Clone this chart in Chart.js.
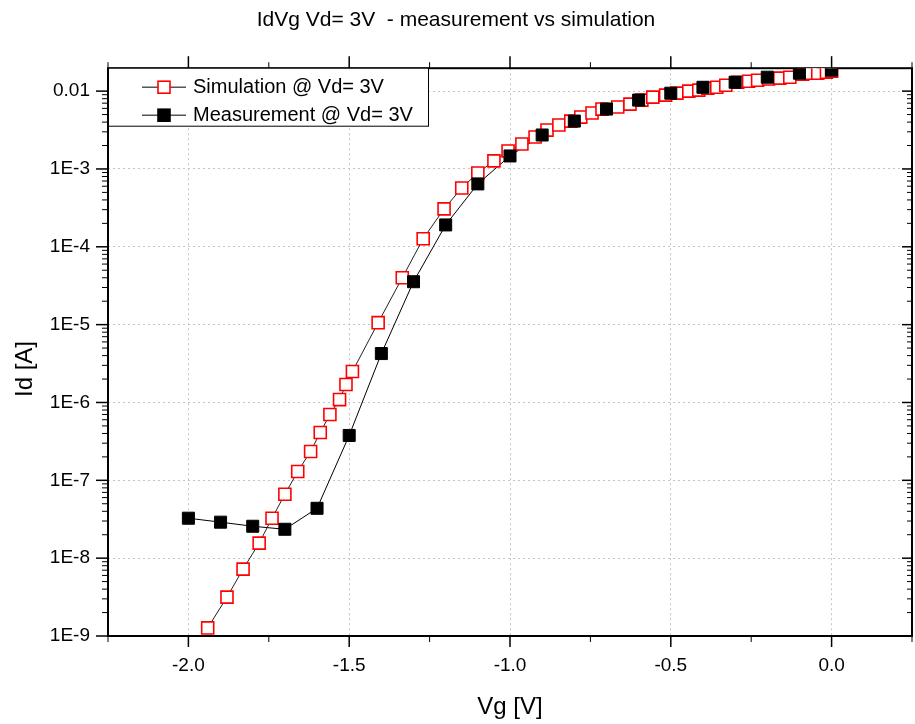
<!DOCTYPE html>
<html>
<head>
<meta charset="utf-8">
<title>IdVg Vd= 3V - measurement vs simulation</title>
<script src="https://cdn.jsdelivr.net/npm/chart.js@4.4.1/dist/chart.umd.min.js"></script>
<style>
  html, body { margin: 0; padding: 0; background: #fff; }
  #chart { display: block; }
</style>
</head>
<body>
<canvas id="chart" width="915" height="724"></canvas>
<script>
const FONT = "'Liberation Sans', Arial, sans-serif";

// measured Id vs Vg, Vd = 3V
const measVg = [-2.0, -1.9, -1.8, -1.7, -1.6, -1.5, -1.4, -1.3, -1.2, -1.1, -1.0,
  -0.9, -0.8, -0.7, -0.6, -0.5, -0.4, -0.3, -0.2, -0.1, 0.0];
const measId = [3.26e-8, 2.9e-8, 2.57e-8, 2.35e-8, 4.37e-8, 3.77e-7, 4.25e-6, 3.56e-5,
  1.91e-4, 6.43e-4, 1.47e-3, 2.73e-3, 4.12e-3, 5.88e-3, 7.67e-3, 9.4e-3, 1.12e-2,
  1.30e-2, 1.51e-2, 1.70e-2, 1.86e-2];

// simulated Id vs Vg, Vd = 3V (non uniform steps)
const simVg = [-1.94, -1.88, -1.83, -1.78, -1.74, -1.70, -1.66, -1.62, -1.59, -1.56,
  -1.53, -1.51, -1.49, -1.41, -1.335, -1.27, -1.205, -1.15, -1.10, -1.05, -1.006,
  -0.963, -0.922, -0.885, -0.848, -0.811, -0.78, -0.745, -0.714, -0.665, -0.627,
  -0.59, -0.556, -0.516, -0.481, -0.444, -0.413, -0.385, -0.357, -0.329, -0.292,
  -0.258, -0.23, -0.196, -0.161, -0.13, -0.09, -0.065, -0.043, -0.016, 0.0];
const simId = [1.27e-9, 3.16e-9, 7.23e-9, 1.56e-8, 3.26e-8, 6.62e-8, 1.30e-7, 2.35e-7,
  4.12e-7, 7.0e-7, 1.09e-6, 1.70e-6, 2.50e-6, 1.06e-5, 4.0e-5, 1.27e-4, 3.07e-4,
  5.70e-4, 8.89e-4, 1.27e-3, 1.70e-3, 2.09e-3, 2.57e-3, 3.16e-3, 3.67e-3, 4.12e-3,
  4.64e-3, 5.23e-3, 5.88e-3, 6.24e-3, 6.81e-3, 7.67e-3, 8.38e-3, 8.89e-3, 9.42e-3,
  1.0e-2, 1.03e-2, 1.09e-2, 1.12e-2, 1.19e-2, 1.30e-2, 1.34e-2, 1.38e-2, 1.43e-2,
  1.47e-2, 1.51e-2, 1.65e-2, 1.70e-2, 1.70e-2, 1.75e-2, 1.80e-2];

const xTicks = [-2.0, -1.5, -1.0, -0.5, 0.0];
const xTickLabels = ['-2.0', '-1.5', '-1.0', '-0.5', '0.0'];
const xMinorTicks = [-2.25, -1.75, -1.25, -0.75, -0.25, 0.25];
const yTicks = [1e-9, 1e-8, 1e-7, 1e-6, 1e-5, 1e-4, 1e-3, 1e-2];
const yTickLabels = ['1E-9', '1E-8', '1E-7', '1E-6', '1E-5', '1E-4', '1E-3', '0.01'];

const meas = measVg.map((v, i) => ({ x: v, y: measId[i] }));
const sim = simVg.map((v, i) => ({ x: v, y: simId[i] }));

// frame + tick marks on all four sides (Origin style)
const framePlugin = {
  id: 'frame',
  beforeDatasetsDraw(chart) {
    const { ctx, chartArea: a, scales: { x, y } } = chart;
    const line = (x1, y1, x2, y2) => {
      ctx.beginPath(); ctx.moveTo(x1, y1); ctx.lineTo(x2, y2); ctx.stroke();
    };
    ctx.save();
    ctx.strokeStyle = '#000';
    ctx.lineWidth = 1.5;
    xTicks.forEach(v => {
      const px = x.getPixelForValue(v);
      line(px, a.bottom, px, a.bottom + 11);
      line(px, a.top, px, a.top - 12);
    });
    yTicks.forEach(v => {
      const py = y.getPixelForValue(v);
      line(a.left, py, a.left - 12, py);
      line(a.right, py, a.right - 10, py);
    });
    ctx.lineWidth = 1;
    xMinorTicks.forEach(v => {
      const px = x.getPixelForValue(v);
      line(px, a.bottom, px, a.bottom + 6);
      line(px, a.top, px, a.top - 6);
    });
    for (let d = -9; d <= -2; d++) {
      for (let k = 2; k <= 9; k++) {
        const v = k * Math.pow(10, d);
        if (v > y.max) continue;
        const py = y.getPixelForValue(v);
        line(a.left, py, a.left - 6, py);
        line(a.right, py, a.right - 5, py);
      }
    }
    ctx.lineWidth = 2;
    ctx.strokeRect(a.left, a.top, a.right - a.left, a.bottom - a.top);
    ctx.restore();
  },
  afterDraw(chart) {
    const { ctx, chartArea: a } = chart;
    ctx.save();
    ctx.fillStyle = '#000';
    ctx.font = '24px ' + FONT;
    ctx.textAlign = 'center';
    ctx.textBaseline = 'alphabetic';
    ctx.fillText('Vg [V]', (a.left + a.right) / 2, 714);
    ctx.translate(32, 369);
    ctx.rotate(-Math.PI / 2);
    ctx.fillText('Id [A]', 0, 0);
    ctx.restore();

    // legend box inside the plot
    const ds = chart.data.datasets;
    const items = [ds[1], ds[2]];
    ctx.save();
    ctx.fillStyle = '#fff';
    ctx.fillRect(a.left, a.top, 320, 58);
    ctx.strokeStyle = '#000';
    ctx.lineWidth = 1;
    ctx.strokeRect(a.left + 0.5, a.top, 320, 58);
    items.forEach((it, i) => {
      const cy = a.top + 19 + i * 28;
      ctx.strokeStyle = '#555';
      ctx.lineWidth = 1.5;
      ctx.beginPath(); ctx.moveTo(142, cy); ctx.lineTo(186, cy); ctx.stroke();
      ctx.fillStyle = it.pointBackgroundColor;
      ctx.fillRect(158, cy - 6, 12, 12);
      ctx.strokeStyle = it.pointBorderColor;
      ctx.lineWidth = 1.6;
      ctx.strokeRect(158, cy - 6, 12, 12);
      ctx.fillStyle = '#000';
      ctx.font = '20px ' + FONT;
      ctx.textAlign = 'left';
      ctx.textBaseline = 'middle';
      ctx.fillText(it.label, 193, cy);
    });
    ctx.restore();
  }
};

const tickFont = { family: FONT, size: 19 };

new Chart(document.getElementById('chart'), {
  type: 'line',
  data: {
    datasets: [
      {
        label: 'Measurement line',
        data: meas,
        borderColor: '#000',
        borderWidth: 1,
        pointRadius: 0,
        order: 3
      },
      {
        label: 'Simulation @ Vd= 3V',
        data: sim,
        borderColor: '#222',
        borderWidth: 1,
        pointStyle: 'rect',
        pointRadius: 8.5,
        pointBorderColor: '#ff0000',
        pointBackgroundColor: '#ffffff',
        pointBorderWidth: 1.6,
        order: 2
      },
      {
        label: 'Measurement @ Vd= 3V',
        data: meas,
        showLine: false,
        pointStyle: 'rect',
        pointRadius: 8.5,
        pointBorderColor: '#000000',
        pointBackgroundColor: '#000000',
        pointBorderWidth: 1,
        order: 1
      }
    ]
  },
  options: {
    responsive: false,
    devicePixelRatio: 1,
    animation: false,
    layout: { autoPadding: false, padding: { right: 3 } },
    plugins: {
      legend: { display: false },
      tooltip: { enabled: false },
      title: {
        display: true,
        text: 'IdVg Vd= 3V  - measurement vs simulation',
        color: '#000',
        font: { family: FONT, size: 21, weight: 'normal' },
        padding: { top: 8, bottom: 35 }
      }
    },
    scales: {
      x: {
        type: 'linear',
        min: -2.25,
        max: 0.25,
        afterBuildTicks: s => { s.ticks = xTicks.map(v => ({ value: v })); },
        afterFit: s => {
          s.height = 88;
          s.paddingLeft = 0;
          s.paddingRight = 0;
        },
        ticks: {
          callback: (v, i) => xTickLabels[i],
          font: tickFont,
          color: '#000',
          padding: 8,
          maxRotation: 0,
          autoSkip: false
        },
        grid: { color: '#c4c4c4', lineWidth: 1, tickLength: 10, tickColor: 'rgba(0,0,0,0)' },
        border: { display: false, dash: [2, 3] }
      },
      y: {
        type: 'logarithmic',
        min: 1e-9,
        max: 0.0197,
        afterBuildTicks: s => { s.ticks = yTicks.map(v => ({ value: v })); },
        afterFit: s => {
          s.width = 108;
          s.paddingTop = 0;
          s.paddingBottom = 0;
        },
        ticks: {
          callback: (v, i) => yTickLabels[i],
          font: tickFont,
          color: '#000',
          padding: 8,
          autoSkip: false
        },
        grid: { color: '#c4c4c4', lineWidth: 1, tickLength: 10, tickColor: 'rgba(0,0,0,0)' },
        border: { display: false, dash: [2, 3] }
      }
    }
  },
  plugins: [framePlugin]
});
</script>
</body>
</html>
